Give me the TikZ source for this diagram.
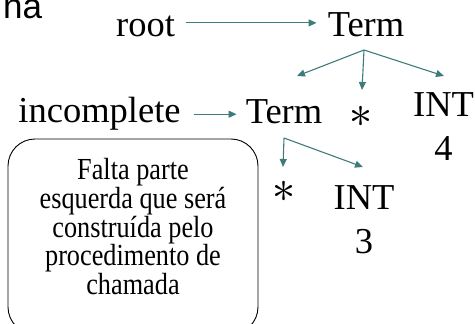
\documentclass[tikz,border=0pt]{standalone}
\usepackage{fontspec}
\setmainfont{Liberation Serif}
\newfontfamily\titlefont{Liberation Sans}
\newfontfamily\opfont{latinmodern-math.otf}
\usetikzlibrary{arrows.meta}
\definecolor{conncol}{RGB}{62,124,124}
\begin{document}
\begin{tikzpicture}[x=1pt,y=-1pt,
  lbl/.style={inner sep=0pt,font=\fontsize{36.5}{40}\selectfont},
  starsym/.style={inner sep=0pt,font=\opfont\fontsize{46}{48}\selectfont},
  conn/.style={draw=conncol,line width=1.1pt,
    -{Triangle[length=8pt,width=7pt]},fill=none},
  note/.style={inner sep=0pt,font=\fontsize{25.5}{21}\selectfont}]
\useasboundingbox (0,0) rectangle (475,324);
\clip (0,0) rectangle (475,324);

% title fragment at the top edge
\node[inner sep=0pt,anchor=base west,font=\titlefont\fontsize{35}{40}\selectfont]
  (title) at (3,18) {na};

% tree labels
\node[lbl,anchor=base] (root)  at (145.5,37)  {root};
\node[lbl,anchor=base] (term1) at (366,37)    {Term};
\node[lbl,anchor=base] (inc)   at (99.5,122)  {incomplete};
\node[lbl,anchor=base] (term2) at (284,123)   {Term};
\node[starsym]         (st1)   at (361,117)   {∗};
\node[lbl,anchor=base] (int1)  at (443.5,117) {INT};
\node[lbl,anchor=base] (n4)    at (443.5,160) {4};
\node[starsym]         (st2)   at (284,192)   {∗};
\node[lbl,anchor=base] (int2)  at (364,209)   {INT};
\node[lbl,anchor=base] (n3)    at (364,253)   {3};

% branch points and arrow ends
\coordinate (t1fork) at (364,50);
\coordinate (t1l) at (297,76);
\coordinate (t1m) at (362,90);
\coordinate (t1r) at (444,76);
\coordinate (t2fork) at (284,138);
\coordinate (t2l) at (283,167);
\coordinate (t2r) at (363,167);

% connectors
\draw[conn,shorten <=11pt,shorten >=11pt] ([yshift=4pt]root.east) -- ([yshift=4pt]root.east -| term1.west);
\draw[conn,shorten <=13pt,shorten >=9pt] ([yshift=-1pt]inc.east) -- ([yshift=-1pt]inc.east -| term2.west);
\draw[conn] (t1fork) -- (t1l);
\draw[conn] (t1fork) -- (t1m);
\draw[conn] (t1fork) -- (t1r);
\draw[conn] (t2fork) -- (t2l);
\draw[conn] (t2fork) -- (t2r);

% callout box
\draw[line width=0.9pt,rounded corners=27pt] (8,139) rectangle (258,334);
\node[note,anchor=north] (notetext) at (133,158)
  {\scalebox{1.03}[1.2]{\begin{tabular}{@{}c@{}}Falta parte\\esquerda que será\\construída pelo\\procedimento de\\chamada\end{tabular}}};
\end{tikzpicture}
\end{document}
